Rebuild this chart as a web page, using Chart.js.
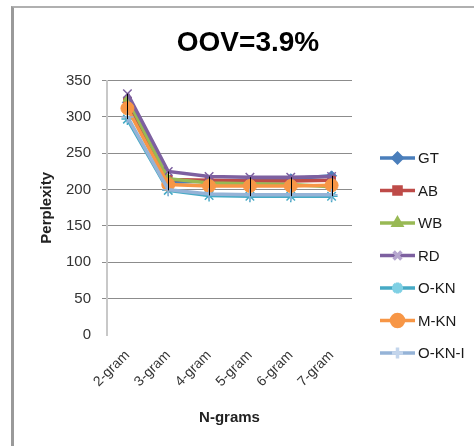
<!DOCTYPE html>
<html>
<head>
<meta charset="utf-8">
<script src="https://cdn.jsdelivr.net/npm/chart.js@4"></script>
<style>
  html, body { margin: 0; padding: 0; background: #fff; overflow: hidden; }
  #frame {
    position: absolute; left: 11px; top: 6px; width: 600px; height: 600px;
    border-left: 3px solid #9a9a9a; border-top: 2px solid #b0b0b0;
  }
  #chart { position: absolute; left: 0; top: 0; }
</style>
</head>
<body>
<div id="frame"></div>
<canvas id="chart" width="474" height="446"></canvas>
<script>
const categories = ["2-gram", "3-gram", "4-gram", "5-gram", "6-gram", "7-gram"];
const seriesNames = ["GT", "AB", "WB", "RD", "O-KN", "M-KN", "O-KN-I"];
const gt    = [320, 210, 212, 213, 215, 219];
const ab    = [322, 214, 213, 212, 212, 213];
const wb    = [325, 215, 209, 208, 207, 204];
const rd    = [332, 225, 218, 217, 217, 218];
const okn   = [297, 199, 192, 191, 191, 191];
const mkn   = [312, 207, 205, 205, 205, 206];
const okni  = [300, 200, 194, 193, 193, 193];
const yTicks = [0, 50, 100, 150, 200, 250, 300, 350];

const values = [gt, ab, wb, rd, okn, mkn, okni];
const colors = ["#4a7ebb", "#be4b48", "#98b954", "#7d60a0", "#46aac5", "#f79646", "#95b3d7"];
const markers = ["rectRot", "rect", "triangle", "crossRot", "star", "circle", "cross"];
const sizes = [5, 5.5, 5, 6, 6, 6.5, 6];

const FONT = "'Liberation Sans', Arial, sans-serif";

const datasets = values.map((data, i) => ({
  label: seriesNames[i],
  data: data,
  borderColor: colors[i],
  backgroundColor: colors[i],
  borderWidth: 3.5,
  pointStyle: markers[i],
  pointRadius: sizes[i],
  pointBorderWidth: (markers[i].startsWith("cross") || markers[i] === "star") ? 1.5 : 1,
  order: values.length - i,
  tension: 0
}));

// black high-low lines at each category
const highLow = {
  id: "highLow",
  afterDatasetsDraw(chart) {
    const { ctx, scales: { x, y } } = chart;
    ctx.save();
    ctx.strokeStyle = "#000";
    ctx.lineWidth = 1;
    categories.forEach((c, j) => {
      const col = values.map(v => v[j]);
      const px = Math.round(x.getPixelForValue(j)) + 0.5;
      ctx.beginPath();
      ctx.moveTo(px, y.getPixelForValue(Math.max(...col)));
      ctx.lineTo(px, y.getPixelForValue(Math.min(...col)));
      ctx.stroke();
    });
    ctx.restore();
  }
};

// legend drawn as line + marker like the original
const sideLegend = {
  id: "sideLegend",
  afterDraw(chart) {
    const ctx = chart.ctx;
    ctx.save();
    seriesNames.forEach((name, i) => {
      const y = 158 + i * 32.5;
      ctx.strokeStyle = colors[i];
      ctx.fillStyle = colors[i];
      ctx.lineWidth = 3.5;
      ctx.beginPath();
      ctx.moveTo(380, y);
      ctx.lineTo(415, y);
      ctx.stroke();
      const isLine = markers[i].startsWith("cross") || markers[i] === "star";
      if (isLine) ctx.strokeStyle = i === 3 ? "#b6a6cf" : (i === 4 ? "#7fd0e4" : "#c3d5ec");
      Chart.helpers.drawPoint(ctx, {
        pointStyle: markers[i], radius: sizes[i] - 0.5, rotation: 0,
        borderWidth: isLine ? 1.5 : 1
      }, 397.5, y);
      ctx.fillStyle = "#1a1a1a";
      ctx.font = "15px " + FONT;
      ctx.textBaseline = "middle";
      ctx.textAlign = "left";
      ctx.fillText(name, 418, y + 1);
    });
    ctx.restore();
  }
};

new Chart(document.getElementById("chart"), {
  type: "line",
  data: { labels: categories, datasets: datasets },
  options: {
    responsive: false,
    animation: false,
    layout: { padding: { left: 22, right: 0, top: 0, bottom: 0 } },
    plugins: {
      legend: { display: false },
      tooltip: { enabled: false },
      title: {
        display: true,
        text: "OOV=3.9%",
        color: "#000",
        font: { family: FONT, size: 28, weight: "bold" },
        padding: { top: 26, bottom: 21 }
      }
    },
    scales: {
      x: {
        offset: true,
        grid: { display: false, drawTicks: false },
        border: { display: false },
        ticks: {
          color: "#333",
          font: { family: FONT, size: 14 },
          minRotation: 45, maxRotation: 45,
          padding: 12
        },
        title: {
          display: true, text: "N-grams", color: "#222",
          font: { family: FONT, size: 15, weight: "bold" },
          padding: { top: 0, bottom: 19 }
        },
        afterFit(scale) { scale.height = 111; }
      },
      y: {
        min: 0, max: 350,
        afterBuildTicks(scale) { scale.ticks = yTicks.map(v => ({ value: v })); },
        grid: {
          color: ctx => ctx.tick && ctx.tick.value === 0 ? "rgba(0,0,0,0)" : "#8c8c8c",
          lineWidth: 1,
          tickLength: 5
        },
        border: { color: "#c8c8c8", width: 2 },
        ticks: {
          color: "#333",
          font: { family: FONT, size: 15 },
          padding: 11
        },
        title: {
          display: true, text: "Perplexity", color: "#222",
          font: { family: FONT, size: 15, weight: "bold" },
          padding: { top: 16, bottom: 0 }
        },
        afterFit(scale) { scale.width = 85; }
      },
      // empty right-hand box that keeps room for the legend
      legendSpace: {
        type: "linear",
        position: "right",
        grid: { display: false, drawTicks: false },
        border: { display: false },
        ticks: { display: false },
        afterFit(scale) { scale.width = 122; }
      }
    }
  },
  plugins: [highLow, sideLegend]
});
</script>
</body>
</html>
